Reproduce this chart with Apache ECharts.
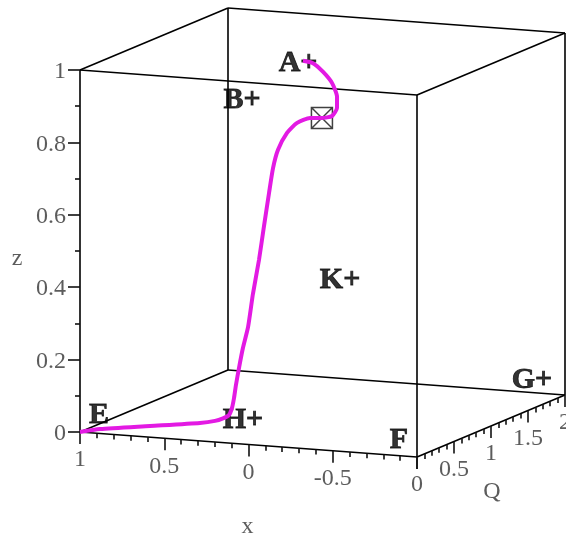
<!DOCTYPE html>
<html><head><meta charset="utf-8">
<script src="https://cdn.jsdelivr.net/npm/echarts@6/dist/echarts.min.js"></script>
<style>html,body{margin:0;padding:0;background:#fff}#c{width:566px;height:536px}</style>
</head><body><div id="c"></div>
<script>
// ---- data ----
const xRange = [-1, 1];
const qRange = [0, 2];
const zRange = [0, 1];
const xTicks = [1, 0.5, 0, -0.5, -1];
const xTickLabels = ['1', '0.5', '0', '-0.5', ''];
const qTicks = [0, 0.5, 1, 1.5, 2];
const qTickLabels = ['0', '0.5', '1', '1.5', '2'];
const zTicks = [0, 0.2, 0.4, 0.6, 0.8, 1];
const zTickLabels = ['0', '0.2', '0.4', '0.6', '0.8', '1'];
const minorStep = 0.1;
const axisNames = ['x', 'Q', 'z'];

const curveX = [1, 0.886, 0.597, 0.308, 0.222, 0.178, 0.147, 0.137, 0.136, 0.139, 0.140, 0.139, 0.132, 0.140, 0.142, 0.150, 0.157, 0.161, 0.152, 0.118, 0.070, 0.000, -0.070, -0.127, -0.147, -0.135, -0.090, -0.026, 0.043, 0.104];
const curveQ = [0, 0.011, 0.028, 0.045, 0.053, 0.061, 0.070, 0.089, 0.114, 0.147, 0.190, 0.241, 0.295, 0.379, 0.465, 0.551, 0.635, 0.698, 0.745, 0.789, 0.816, 0.831, 0.833, 0.840, 0.861, 0.889, 0.923, 0.949, 0.969, 0.973];
const curveZ = [0, 0.011, 0.028, 0.045, 0.053, 0.061, 0.070, 0.089, 0.114, 0.147, 0.190, 0.241, 0.295, 0.379, 0.465, 0.551, 0.635, 0.698, 0.745, 0.789, 0.816, 0.831, 0.833, 0.840, 0.861, 0.889, 0.923, 0.949, 0.969, 0.973];
const markerXQZ = [-0.070, 0.833, 0.833];

const pointNames = ['A+', 'B+', 'E', 'H+', 'F', 'G+', 'K+'];
const pointX = [0.145, 0.917, 0.887, 0.033, -0.893, -0.892, -0.104];
const pointQ = [1, 2, 0, 0, 0, 1.8, 1];
const pointZ = [0.963, 0.749, 0.051, 0.067, 0.043, 0.055, 0.372];

// ---- view (orthographic projection of the box) ----
const W = 566, H = 536;
const view = { origin: [80, 432], ex: [337, 25], eq: [148, -62], ez: [0, -362] };
function P(x, q, z) {
  const a = (xRange[1] - x) / (xRange[1] - xRange[0]);
  const b = (q - qRange[0]) / (qRange[1] - qRange[0]);
  const c = (z - zRange[0]) / (zRange[1] - zRange[0]);
  return [view.origin[0] + a * view.ex[0] + b * view.eq[0] + c * view.ez[0],
          view.origin[1] + a * view.ex[1] + b * view.eq[1] + c * view.ez[1]];
}

// box edges
const corners = [];
xRange.forEach(x => qRange.forEach(q => zRange.forEach(z => corners.push([x, q, z]))));
const edges = [];
for (let i = 0; i < corners.length; i++) for (let j = i + 1; j < corners.length; j++) {
  let d = 0; for (let k = 0; k < 3; k++) if (corners[i][k] !== corners[j][k]) d++;
  if (d === 1) edges.push({ coords: [P(...corners[i]), P(...corners[j])] });
}

// ticks
const ticks = [];
function tick(p, dx, dy) { ticks.push({ coords: [p, [p[0] + dx, p[1] + dy]] }); }
function minors(r) { const out = []; const n = Math.round((r[1] - r[0]) / minorStep); for (let k = 0; k <= n; k++) out.push(Math.round((r[0] + k * minorStep) * 1000) / 1000); return out; }
zTicks.forEach(z => tick(P(xRange[1], qRange[0], z), -12, 0));
minors(zRange).forEach(z => { if (!zTicks.some(t => Math.abs(t - z) < 1e-6)) tick(P(xRange[1], qRange[0], z), -5, 0); });
xTicks.forEach(x => tick(P(x, qRange[0], zRange[0]), 0, 12));
minors(xRange).forEach(x => { if (!xTicks.some(t => Math.abs(t - x) < 1e-6)) tick(P(x, qRange[0], zRange[0]), 0, 5); });
qTicks.forEach(q => tick(P(xRange[0], q, zRange[0]), 0, 12));
minors(qRange).forEach(q => { if (!qTicks.some(t => Math.abs(t - q) < 1e-6)) tick(P(xRange[0], q, zRange[0]), 0, 5); });

// tick labels
const tickLabelsLeft = zTicks.map((z, i) => { const p = P(xRange[1], qRange[0], z); return { name: zTickLabels[i], value: [p[0] - 14, p[1] + 2] }; });
const tickLabelsBelow = xTicks.map((x, i) => { const p = P(x, qRange[0], zRange[0]); return { name: xTickLabels[i], value: [p[0], p[1] + 28] }; })
  .concat(qTicks.map((q, i) => { const p = P(xRange[0], q, zRange[0]); return { name: qTickLabels[i], value: [p[0], p[1] + 28] }; }));
const pX = P(0, qRange[0], zRange[0]);
const pQ = P(xRange[0], (qRange[0] + qRange[1]) / 2, zRange[0]);
const pZ = P(xRange[1], qRange[0], (zRange[0] + zRange[1]) / 2);
const axisTitleData = [
  { name: axisNames[0], value: [pX[0] - 1, pX[1] + 82] },
  { name: axisNames[1], value: [pQ[0] + 1, pQ[1] + 66] },
  { name: axisNames[2], value: [pZ[0] - 63, pZ[1] + 8] }
];

const curveData = curveX.map((x, i) => P(x, curveQ[i], curveZ[i]));
const pointData = pointNames.map((n, i) => ({ name: n, value: P(pointX[i], pointQ[i], pointZ[i]) }));

const serif = "'Liberation Serif', 'Times New Roman', serif";
const chart = echarts.init(document.getElementById('c'), null, { renderer: 'canvas' });
chart.setOption({
  animation: false,
  backgroundColor: '#fff',
  grid: { left: 0, top: 0, width: W, height: H },
  xAxis: { type: 'value', min: 0, max: W, show: false },
  yAxis: { type: 'value', min: 0, max: H, inverse: true, show: false },
  series: [
    { type: 'lines', coordinateSystem: 'cartesian2d', data: edges, silent: true,
      lineStyle: { color: '#000', width: 1.6, opacity: 1 } },
    { type: 'lines', coordinateSystem: 'cartesian2d', data: ticks, silent: true,
      lineStyle: { color: '#111', width: 1.6, opacity: 1 } },
    { type: 'line', data: curveData, smooth: 0.2, symbol: 'none', silent: true,
      lineStyle: { color: '#e31ae3', width: 4 } },
    { type: 'scatter', data: [P(...markerXQZ)], symbol: 'path://M0,0L10,0L10,10L0,10Z M0,0L10,10 M10,0L0,10',
      symbolSize: 21, silent: true,
      itemStyle: { color: 'rgba(0,0,0,0)', borderColor: '#111', borderWidth: 1.5 } },
    { type: 'scatter', data: tickLabelsLeft, symbolSize: 0.1, silent: true, itemStyle: { color: 'rgba(0,0,0,0)' },
      label: { show: true, position: 'inside', formatter: '{b}', align: 'right', verticalAlign: 'middle',
        color: '#333', fontFamily: serif, fontSize: 24 } },
    { type: 'scatter', data: tickLabelsBelow, symbolSize: 0.1, silent: true, itemStyle: { color: 'rgba(0,0,0,0)' },
      label: { show: true, position: 'inside', formatter: '{b}', align: 'center', verticalAlign: 'middle',
        color: '#333', fontFamily: serif, fontSize: 24 } },
    { type: 'scatter', data: axisTitleData, symbolSize: 0.1, silent: true, itemStyle: { color: 'rgba(0,0,0,0)' },
      label: { show: true, position: 'inside', formatter: '{b}', align: 'center', verticalAlign: 'middle',
        color: '#333', fontFamily: serif, fontSize: 24 } },
    { type: 'scatter', data: pointData, symbolSize: 0.1, silent: true, itemStyle: { color: 'rgba(0,0,0,0)' },
      label: { show: true, position: 'inside', formatter: '{b}', align: 'center', verticalAlign: 'middle',
        color: '#000', fontFamily: serif, fontSize: 30, fontWeight: 'bold',
        textBorderColor: '#000', textBorderWidth: 0.8 } }
  ]
});
</script></body></html>
